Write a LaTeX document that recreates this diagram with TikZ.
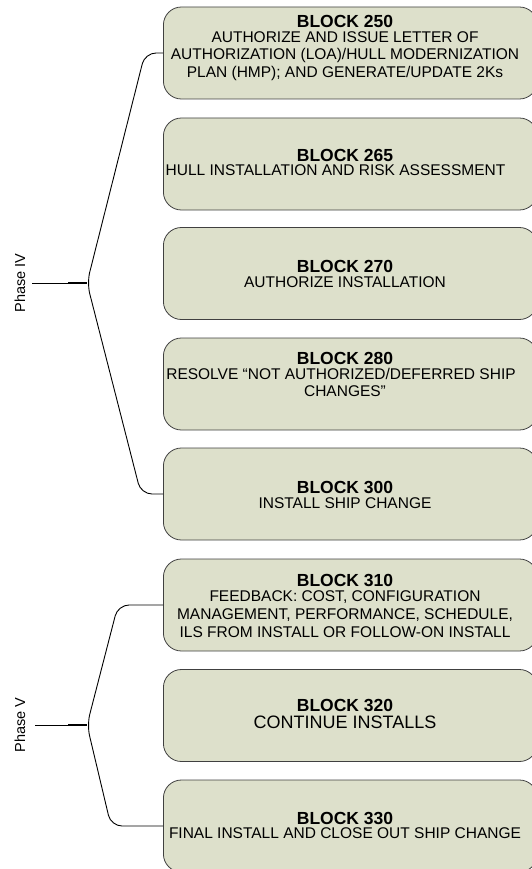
\documentclass[tikz,border=0pt]{standalone}
\usepackage{fontspec}
\setmainfont{Liberation Sans}
\begin{document}
\begin{tikzpicture}[x=1pt,y=-1pt,
  blockbox/.style={draw=black!75, line width=0.8pt, fill=boxfill,
    rounded corners=18pt, minimum width=374pt, minimum height=92pt,
    anchor=west, inner sep=0pt},
  blocktext/.style={align=center, inner sep=0pt,
    font=\fontsize{15.5}{17.7}\selectfont},
  bigbody/.style={font=\fontsize{18}{19.5}\selectfont},
  brace/.style={draw=black, line width=0.9pt, rounded corners=11pt},
  phaselabel/.style={rotate=90, font=\fontsize{14.5}{16}\selectfont},
]
\definecolor{boxfill}{HTML}{DDE0CB}
\newcommand{\blocktitle}[1]{{\fontsize{17.5}{19}\selectfont\bfseries #1}\\[-3pt]}
\useasboundingbox (0,0) rectangle (532,869);

% Rounded boxes (the right side runs past the page edge)
\node[blockbox] (b250) at (163,53) {};
\node[blockbox] (b265) at (163,164) {};
\node[blockbox] (b270) at (163,273.5) {};
\node[blockbox] (b280) at (163,384) {};
\node[blockbox] (b300) at (163,494) {};
\node[blockbox] (b310) at (163,605) {};
\node[blockbox] (b320) at (163,715.5) {};
\node[blockbox] (b330) at (163,826) {};

% Box texts
\node[blocktext] (t250) at (345,48) {\blocktitle{BLOCK 250}%
  AUTHORIZE AND ISSUE LETTER OF\\AUTHORIZATION (LOA)/HULL MODERNIZATION\\PLAN (HMP); AND GENERATE/UPDATE 2Ks};
\node[blocktext] (t265) at (345,162.5) {\blocktitle{BLOCK 265}%
  \hspace*{-19pt}HULL INSTALLATION AND RISK ASSESSMENT};
\node[blocktext] (t270) at (345,274) {\blocktitle{BLOCK 270}%
  AUTHORIZE INSTALLATION};
\node[blocktext] (t280) at (345,374.5) {\blocktitle{BLOCK 280}%
  \hspace*{-8pt}RESOLVE “NOT AUTHORIZED/DEFERRED SHIP\\CHANGES"};
\node[blocktext] (t300) at (345,495) {\blocktitle{BLOCK 300}%
  INSTALL SHIP CHANGE};
\node[blocktext] (t310) at (345,606) {\blocktitle{BLOCK 310}%
  FEEDBACK: COST, CONFIGURATION\\MANAGEMENT, PERFORMANCE, SCHEDULE,\\ILS FROM INSTALL OR FOLLOW-ON INSTALL};
\node[blocktext, bigbody] (t320) at (345,714) {\blocktitle{BLOCK 320}%
  CONTINUE INSTALLS};
\node[blocktext] (t330) at (345,825.5) {\blocktitle{BLOCK 330}%
  FINAL INSTALL AND CLOSE OUT SHIP CHANGE};

% Phase IV bracket
\node[phaselabel] (p4) at (20,283) {Phase IV};
\coordinate (j4) at (87,283);
\coordinate (s4) at (32,283);
\draw[line width=0.9pt] (s4) -- (j4);
\draw[line width=2pt] (68,283) -- (j4);
\draw[brace] (b250.west) -- (145,53) -- (j4) -- (141,494) -- (b300.west);

% Phase V bracket
\node[phaselabel] (p5) at (20,725) {Phase V};
\coordinate (j5) at (87,725);
\coordinate (s5) at (35,725);
\draw[line width=0.9pt] (s5) -- (j5);
\draw[line width=2pt] (68,725) -- (j5);
\draw[brace] (b310.west) -- (118,605) -- (j5) -- (111,826) -- (b330.west);
\end{tikzpicture}
\end{document}
